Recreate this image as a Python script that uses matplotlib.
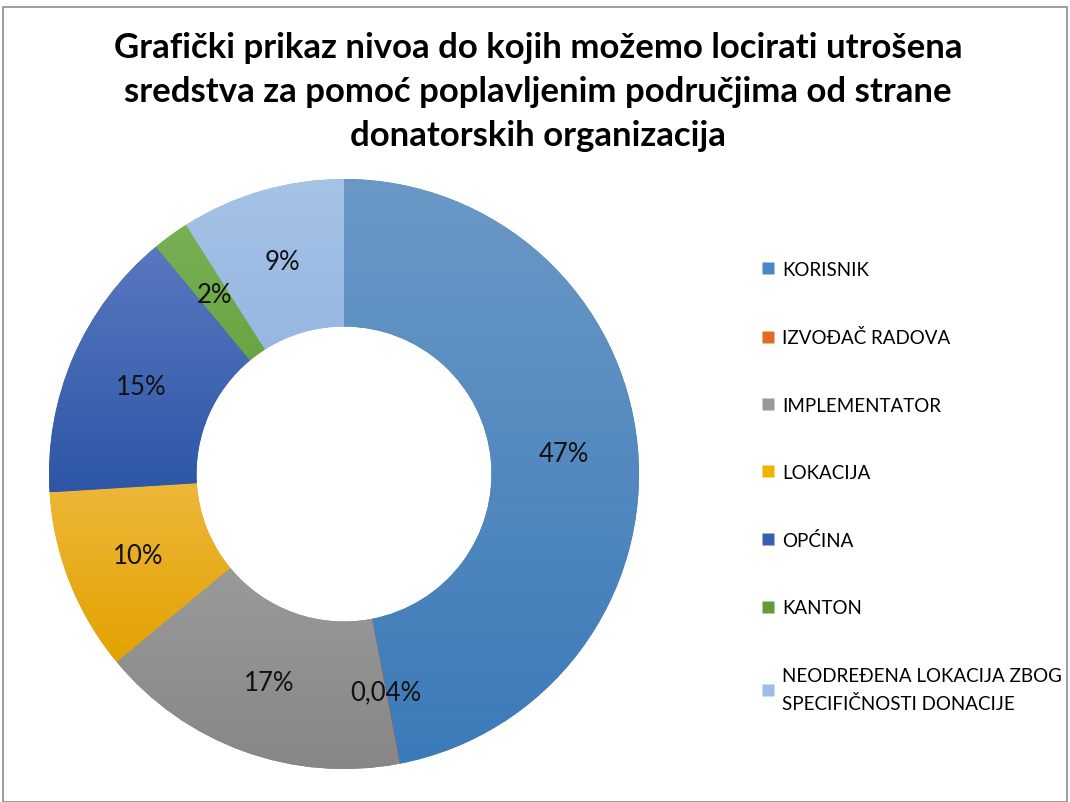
import numpy as np
import matplotlib
matplotlib.use("Agg")
import matplotlib.pyplot as plt
from matplotlib.colors import LinearSegmentedColormap
from matplotlib.lines import Line2D
from matplotlib.patches import Rectangle

plt.rcParams["font.family"] = ["Lato", "DejaVu Sans"]

title = ("Grafički prikaz nivoa do kojih možemo locirati utrošena\n"
         "sredstva za pomoć poplavljenim područjima od strane\n"
         "donatorskih organizacija")

categories = ["KORISNIK", "IZVOĐAČ RADOVA", "IMPLEMENTATOR", "LOKACIJA",
              "OPĆINA", "KANTON", "NEODREĐENA LOKACIJA ZBOG\nSPECIFIČNOSTI DONACIJE"]
values = [47, 0.04, 17, 10, 15, 2, 9]
value_labels = ["47%", "0,04%", "17%", "10%", "15%", "2%", "9%"]

# (top colour, bottom colour) of each slice's gradient
grad_colors = [
    ("#6b98c6", "#3b7ab9"),
    ("#ee8a4a", "#d86a1e"),
    ("#a3a3a3", "#868686"),
    ("#efb83c", "#e2a200"),
    ("#5878c0", "#2d56a6"),
    ("#78b154", "#5b9a35"),
    ("#a5c3e7", "#8daddc"),
]
legend_colors = ["#4a88c4", "#e06c24", "#999999", "#f0b400", "#3460b0", "#5d9e3a", "#9dbde4"]

fig = plt.figure(figsize=(10.7, 8.03), dpi=100)
fig.patches.append(Rectangle((0.003, 0.0), 0.994, 0.99, transform=fig.transFigure,
                             fill=False, edgecolor="#8c8c8c", linewidth=1.2))

ax = fig.add_axes([0.0458, 0.0411, 0.5514, 0.7347])
wedges, _ = ax.pie(values, startangle=90, counterclock=False, radius=1.0,
                   colors=[c[1] for c in grad_colors],
                   wedgeprops=dict(width=0.5, edgecolor="none"))

grad = np.linspace(0, 1, 256).reshape(-1, 1)
for w, (top, bot) in zip(wedges, grad_colors):
    cmap = LinearSegmentedColormap.from_list("g", [top, bot])
    verts = w.get_path().vertices
    x0, x1 = verts[:, 0].min(), verts[:, 0].max()
    y0, y1 = verts[:, 1].min(), verts[:, 1].max()
    im = ax.imshow(grad, cmap=cmap, aspect="auto", extent=[x0, x1, y0, y1],
                   origin="upper", zorder=w.get_zorder() + 0.1)
    im.set_clip_path(w)

for w, lab in zip(wedges, value_labels):
    ang = np.deg2rad((w.theta1 + w.theta2) / 2)
    r = 0.75
    ax.text(r * np.cos(ang), r * np.sin(ang), lab, ha="center", va="center",
            fontsize=18.5, color="#111111", zorder=10)

ax.set_xlim(-1, 1)
ax.set_ylim(-1, 1)
ax.set_aspect("equal")
ax.axis("off")

fig.text(0.503, 0.96, title, ha="center", va="top", fontsize=25,
         fontweight="bold", linespacing=1.45, color="#000000")

handles = [Line2D([], [], marker="s", linestyle="none", markersize=8.5,
                  markerfacecolor=c, markeredgecolor="none") for c in legend_colors]
leg = fig.legend(handles, categories, loc="upper left", bbox_to_anchor=(0.703, 0.683),
                 frameon=False, fontsize=13.5, labelspacing=2.68, handletextpad=0.3,
                 handlelength=0.9, borderaxespad=0)
for t in leg.get_texts():
    t.set_linespacing(1.7)

fig.savefig("out.png", dpi=100)
